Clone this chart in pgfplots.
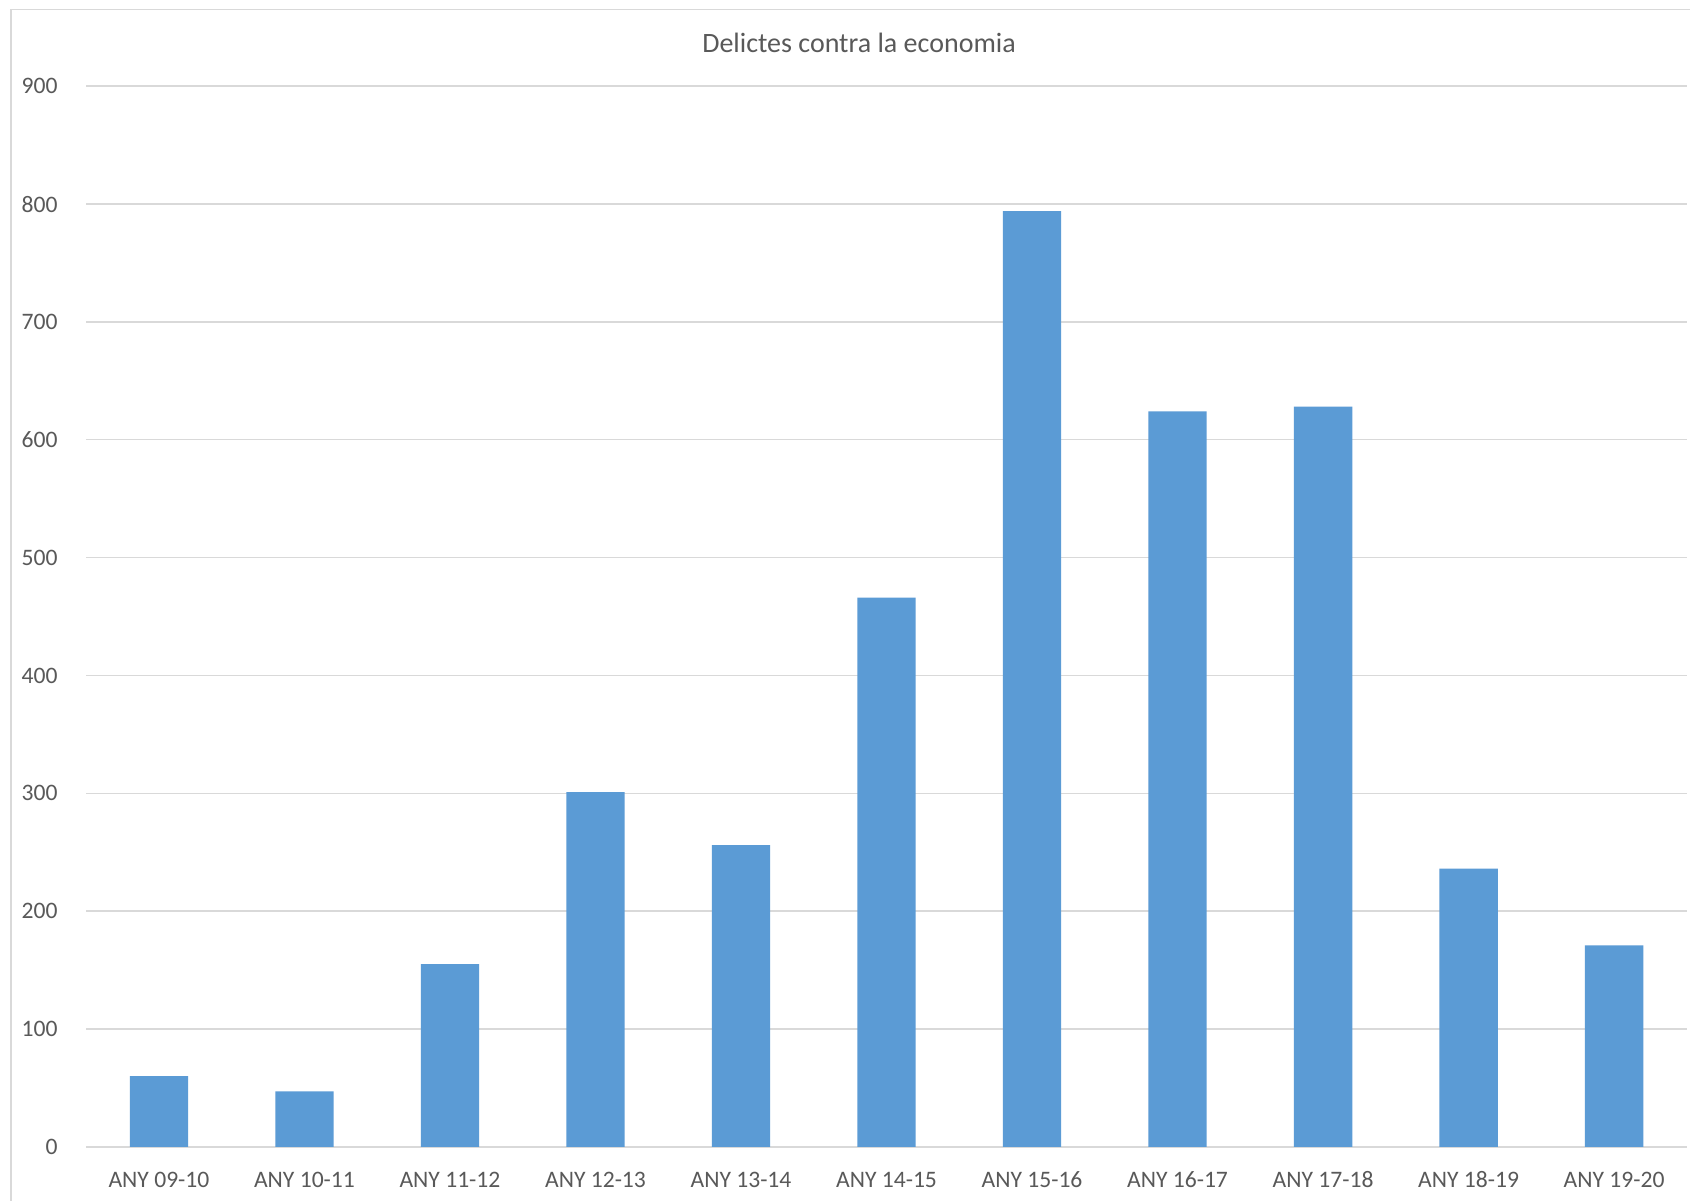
\documentclass[border=0pt]{standalone}
\usepackage{pgfplots}
\pgfplotsset{compat=1.18}
\usepackage{fontspec}
\setmainfont{Carlito}
\definecolor{barblue}{HTML}{5B9BD5}
\definecolor{gridgray}{HTML}{D9D9D9}
\definecolor{textgray}{HTML}{595959}
\begin{document}
\begin{tikzpicture}
\useasboundingbox (0,0) rectangle (845pt,600pt);
\fill[white] (0,0) rectangle (845pt,600pt);
\draw[gridgray, line width=0.75pt] (5.4pt,-2pt) -- (5.4pt,595.2pt) -- (850pt,595.2pt);
\begin{axis}[
  at={(43.1pt,26.6pt)}, anchor=south west,
  scale only axis, width=800.3pt, height=530.3pt,
  xmin=-0.5, xmax=10.5, ymin=0, ymax=900,
  ybar, bar width=29.2pt,
  axis line style={draw=none},
  major tick length=0pt,
  xtick=data,
  xticklabels={ANY 09-10,ANY 10-11,ANY 11-12,ANY 12-13,ANY 13-14,ANY 14-15,ANY 15-16,ANY 16-17,ANY 17-18,ANY 18-19,ANY 19-20},
  ytick={0,100,...,900},
  ymajorgrids, grid style={gridgray, line width=0.75pt},
  /pgf/number format/assume math mode=true,
  ticklabel style={font=\fontsize{11.8}{14}\selectfont, text=textgray, inner sep=0pt},
  yticklabel style={anchor=east, xshift=-14.1pt},
  xticklabel style={anchor=center, yshift=-16.6pt},
]
\addplot[fill=barblue, draw=none] coordinates {(0,60) (1,47) (2,155) (3,301) (4,256) (5,466) (6,794) (7,624) (8,628) (9,236) (10,171)};
\end{axis}
\node[text=textgray, font=\fontsize{14}{16}\selectfont, inner sep=0pt] at (429.5pt,578.5pt) {Delictes contra la economia};
\end{tikzpicture}
\end{document}
